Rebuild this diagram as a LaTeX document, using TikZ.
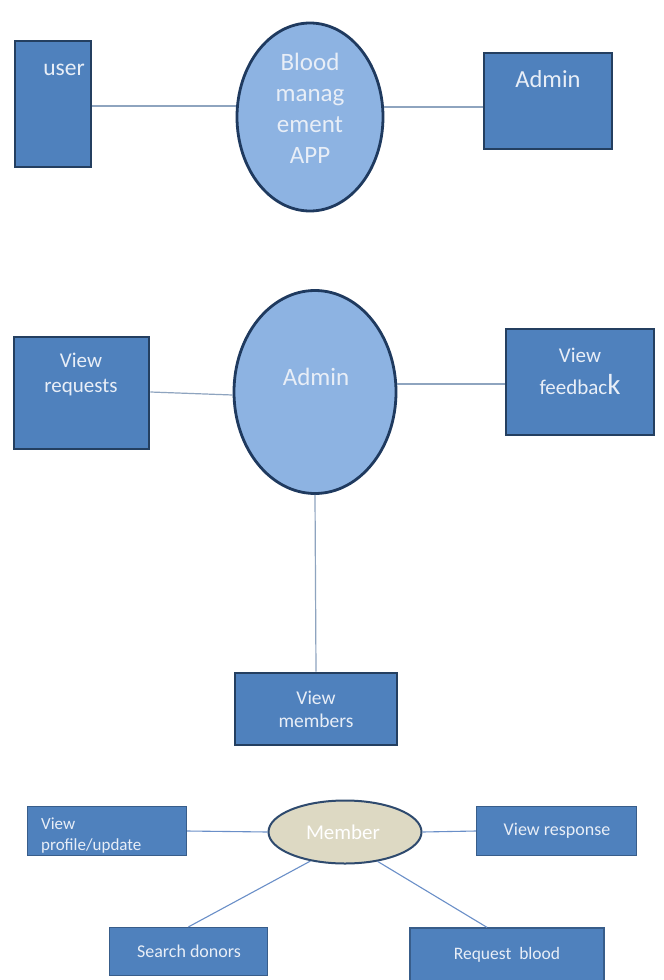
\documentclass[tikz,border=0pt]{standalone}
\usepackage{fontspec}
\setmainfont{Carlito}
\usetikzlibrary{shapes.geometric}
\definecolor{boxfill}{HTML}{4F81BD}
\definecolor{boxedge}{HTML}{243F60}
\definecolor{boxedgelt}{HTML}{385D8A}
\definecolor{ellfill}{HTML}{8DB3E2}
\definecolor{elledge}{HTML}{1F3A5F}
\definecolor{memfill}{HTML}{DDD9C3}
\definecolor{memedge}{HTML}{2E4A6E}
\definecolor{linecol}{HTML}{8EA4BF}
\definecolor{linecolb}{HTML}{6A8FC8}
\definecolor{txt}{HTML}{E8EEF7}
\begin{document}
\begin{tikzpicture}[x=1pt,y=-1pt,
  bigbox/.style={draw=boxedge,line width=2.8pt,fill=boxfill,inner sep=0pt},
  smallbox/.style={draw=boxedgelt,line width=1.3pt,fill=boxfill,inner sep=0pt},
  bigell/.style={ellipse,draw=elledge,line width=2.8pt,fill=ellfill,inner sep=0pt},
  memell/.style={ellipse,draw=memedge,line width=2pt,fill=memfill,inner sep=0pt},
  lbl/.style={text=txt,inner sep=0pt,align=center},
  conn/.style={draw=linecol,line width=1.2pt},
  connb/.style={draw=linecolb,line width=1.1pt}]
\clip (0,0) rectangle (664,980);
\fill[white] (0,0) rectangle (664,980);

% ---- top section
\node[bigbox,minimum width=76pt,minimum height=126pt] (user) at (53,104) {};
\node[bigell,minimum width=146pt,minimum height=188pt] (app) at (310,117) {};
\node[bigbox,minimum width=128pt,minimum height=96pt] (admin) at (548,101) {};
\node[lbl,font=\fontsize{23.5}{26}\selectfont] (userT) at (64,70) {user};
\node[lbl,font=\fontsize{25}{31}\selectfont] (appT) at (310,108) {Blood\\manag\\ement\\APP};
\node[lbl,font=\fontsize{24.5}{26}\selectfont] (adminT) at (548,79) {Admin};
\draw[conn] (user.east |- 0,106) coordinate (u1) -- (u1 -| app.west);
\draw[conn] (app.east |- 0,107) coordinate (a1) -- (a1 -| admin.west);

% ---- middle section
\node[bigbox,minimum width=135pt,minimum height=112pt] (vreq) at (81.5,393) {};
\node[bigell,minimum width=162pt,minimum height=203pt] (adm2) at (315,392) {};
\node[bigbox,minimum width=148pt,minimum height=106pt] (vfb) at (580,382) {};
\node[bigbox,minimum width=162pt,minimum height=72pt] (vmem) at (316,709) {};
\node[lbl,font=\fontsize{21}{25}\selectfont] (vreqT) at (81,374.5) {View\\requests};
\node[lbl,font=\fontsize{25}{26}\selectfont] (adm2T) at (316,377) {Admin};
\node[lbl,font=\fontsize{21}{32}\selectfont] (vfbT) at (580,371) {View\\feedbac{\fontsize{29}{29}\selectfont k}};
\node[lbl,font=\fontsize{19.5}{23}\selectfont] (vmemT) at (316,709.5) {View\\members};
\draw[conn] (vreq.east |- 0,392) -- (adm2.west |- 0,395);
\draw[conn] (adm2.east |- 0,384) coordinate (a2) -- (a2 -| vfb.west);
\draw[conn] (adm2.south) -- (vmem.north);

% ---- bottom section
\node[smallbox,minimum width=159pt,minimum height=49pt] (vprof) at (107,831) {};
\node[memell,minimum width=153pt,minimum height=63pt] (member) at (345,832) {};
\node[smallbox,minimum width=160pt,minimum height=49pt] (vresp) at (556.5,831) {};
\node[smallbox,minimum width=158pt,minimum height=48pt] (search) at (188.5,951.5) {};
\node[smallbox,minimum width=194pt,minimum height=60pt] (reqb) at (507,958) {};
\begin{scope}
\clip ([shift={(0.65pt,-0.65pt)}]vprof.south west) rectangle ([shift={(-0.65pt,0.65pt)}]vprof.north east);
\node[lbl,align=left,anchor=north west,font=\fontsize{17}{21}\selectfont] (vprofT) at (41,818) {View\\profile/update};
\end{scope}
\node[lbl,font=\fontsize{21}{24}\selectfont,text=white] (memberT) at (343,832) {Member};
\node[lbl,font=\fontsize{18}{20}\selectfont] (vrespT) at (557,831) {View response};
\node[lbl,font=\fontsize{18}{20}\selectfont] (searchT) at (189,951) {Search donors};
\node[lbl,font=\fontsize{17.5}{20}\selectfont] (reqbT) at (507,955) {Request~ blood};
\draw[connb] (vprof.east) -- (member.west);
\draw[connb] (member.east) -- (vresp.west);
\draw[connb] (member.-140) -- (search.north);
\draw[connb] (member.-42) -- ([xshift=-20pt]reqb.north);
\end{tikzpicture}
\end{document}
